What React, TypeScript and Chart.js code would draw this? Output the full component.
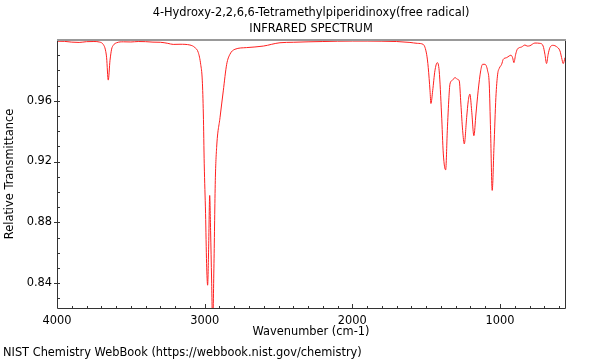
import React, { useEffect, useRef } from "react";
import { Chart, registerables } from "chart.js";

Chart.register(...registerables);

const TITLE_LINES = ["4-Hydroxy-2,2,6,6-Tetramethylpiperidinoxy(free radical)", "INFRARED SPECTRUM"];
const X_TITLE = "Wavenumber (cm-1)";
const Y_TITLE = "Relative Transmittance";
const FOOTER = "NIST Chemistry WebBook (https://webbook.nist.gov/chemistry)";

const X_MAJOR = [4000, 3000, 2000, 1000];
const Y_MAJOR = [0.84, 0.88, 0.92, 0.96];

const WAVENUMBERS = [
  4000, 3950, 3900, 3850, 3800, 3750, 3710, 3687, 3672, 3664, 3653, 3641, 3630, 3619, 3596,
  3550, 3500, 3450, 3400, 3350, 3300, 3250, 3213, 3167, 3100, 3066, 3043, 3027, 3016, 3009,
  3003, 2994, 2987, 2980, 2973, 2966, 2960, 2953, 2946, 2937, 2928, 2919, 2896, 2874, 2851,
  2829, 2795, 2716, 2603, 2490, 2400, 2300, 2200, 2100, 2000, 1900, 1800, 1700, 1610, 1560,
  1520, 1497, 1486, 1474, 1468, 1456, 1441, 1425, 1412, 1396, 1384, 1368, 1357, 1346, 1339,
  1321, 1305, 1290, 1276, 1265, 1253, 1242, 1226, 1215, 1204, 1192, 1177, 1163, 1148, 1131,
  1118, 1102, 1084, 1073, 1064, 1053, 1041, 1028, 1016, 1005, 989, 978, 955, 938, 926,
  915, 906, 894, 883, 854, 831, 816, 798, 764, 730, 708, 696, 685, 674, 662,
  640, 617, 594, 583, 572, 560,
];

const TRANSMITTANCE = [
  0.9992, 0.9991, 0.9986, 0.9984, 0.9989, 0.999, 0.9986, 0.9971, 0.9935, 0.9883, 0.9736, 0.9866, 0.994, 0.9965, 0.9982,
  0.9988, 0.9987, 0.999, 0.9989, 0.9986, 0.9985, 0.9978, 0.9971, 0.9972, 0.9967, 0.995, 0.9917, 0.984, 0.9731, 0.9513,
  0.9185, 0.8857, 0.8529, 0.8386, 0.8638, 0.8977, 0.8748, 0.842, 0.812, 0.8529, 0.9074, 0.9293, 0.949, 0.9665, 0.984,
  0.9906, 0.9939, 0.995, 0.996, 0.9982, 0.9985, 0.9988, 0.999, 0.9992, 0.9993, 0.9993, 0.9992, 0.999, 0.9984, 0.9978,
  0.9971, 0.9906, 0.9818, 0.9666, 0.9582, 0.9666, 0.9797, 0.9851, 0.9797, 0.9513, 0.925, 0.9145, 0.9403, 0.9622, 0.971,
  0.9736, 0.9753, 0.9742, 0.9731, 0.9578, 0.9403, 0.9316, 0.949, 0.96, 0.9644, 0.9534, 0.937, 0.9513, 0.9666, 0.9797,
  0.984, 0.984, 0.9797, 0.971, 0.9403, 0.901, 0.9293, 0.9622, 0.9775, 0.9814, 0.984, 0.9873, 0.9884, 0.9895, 0.99,
  0.9884, 0.9851, 0.9906, 0.9939, 0.9954, 0.9967, 0.996, 0.9962, 0.998, 0.9978, 0.996, 0.9906, 0.9845, 0.9906, 0.995,
  0.9965, 0.9956, 0.9928, 0.9884, 0.9845, 0.9884,
];

const FONT = "'DejaVu Sans', sans-serif";
const FONT_SIZE = 11.4;

const decor = {
  id: "decor",
  afterDraw(chart: any) {
    const { ctx, chartArea, scales } = chart;
    const { left, right, top, bottom } = chartArea;
    const x = scales.x;
    const y = scales.y;
    ctx.save();
    ctx.strokeStyle = "#333";
    ctx.lineWidth = 1;
    ctx.beginPath();
    for (let v = 600; v <= 4000; v += 100) {
      const px = Math.round(x.getPixelForValue(v)) + 0.5;
      if (px < left || px > right) continue;
      const len = v % 1000 === 0 ? 4 : 2;
      ctx.moveTo(px, bottom);
      ctx.lineTo(px, bottom - len);
    }
    for (let i = 83; i <= 99; i++) {
      const v = i / 100;
      const py = Math.round(y.getPixelForValue(v)) + 0.5;
      if (py < top || py > bottom) continue;
      if (i % 4 === 0) {
        ctx.moveTo(left - 3, py);
        ctx.lineTo(left + 3, py);
      } else {
        ctx.moveTo(left, py);
        ctx.lineTo(left + 3, py);
      }
    }
    ctx.stroke();
    // spines
    ctx.strokeStyle = "#333";
    ctx.beginPath();
    ctx.moveTo(left + 0.5, top);
    ctx.lineTo(left + 0.5, bottom + 0.5);
    ctx.lineTo(right + 0.5, bottom + 0.5);
    ctx.lineTo(right + 0.5, top);
    ctx.stroke();
    ctx.strokeStyle = "#999";
    ctx.lineWidth = 2;
    ctx.beginPath();
    ctx.moveTo(left, top);
    ctx.lineTo(right + 1, top);
    ctx.stroke();
    // texts
    ctx.fillStyle = "#000";
    ctx.font = `${FONT_SIZE}px ${FONT}`;
    ctx.textAlign = "center";
    ctx.textBaseline = "middle";
    const cx = (left + right) / 2;
    ctx.fillText(TITLE_LINES[0], cx, 13);
    ctx.fillText(TITLE_LINES[1], cx, 29);
    ctx.fillText(X_TITLE, cx, 332);
    ctx.save();
    ctx.translate(10, (top + bottom) / 2);
    ctx.rotate(-Math.PI / 2);
    ctx.fillText(Y_TITLE, 0, 0);
    ctx.restore();
    ctx.textAlign = "left";
    ctx.fillText(FOOTER, 3, 353);
    ctx.restore();
  },
};

export default function App() {
  const ref = useRef<HTMLCanvasElement | null>(null);
  useEffect(() => {
    if (!ref.current) return;
    const points = WAVENUMBERS.map((w, i) => ({ x: w, y: TRANSMITTANCE[i] }));
    const chart = new Chart(ref.current, {
      type: "line",
      data: {
        datasets: [
          {
            data: points,
            borderColor: "#ff2020",
            borderWidth: 1,
            pointRadius: 0,
            cubicInterpolationMode: "monotone",
          },
        ],
      },
      options: {
        responsive: false,
        animation: false,
        events: [],
        layout: { padding: { left: 0, right: 35, top: 40, bottom: 0 } },
        plugins: { legend: { display: false }, title: { display: false }, tooltip: { enabled: false } },
        scales: {
          x: {
            type: "linear",
            reverse: true,
            min: 560,
            max: 4000,
            grid: { display: false, drawTicks: false },
            border: { display: false },
            afterBuildTicks: (s: any) => {
              s.ticks = X_MAJOR.map((v) => ({ value: v }));
            },
            afterFit: (s: any) => {
              s.height = 52;
            },
            ticks: {
              autoSkip: false,
              maxRotation: 0,
              padding: 6,
              color: "#000",
              font: { family: FONT, size: FONT_SIZE },
              callback: (v: any) => String(v),
            },
          },
          y: {
            type: "linear",
            min: 0.8236,
            max: 1.0,
            grid: { display: false, drawTicks: false },
            border: { display: false },
            afterBuildTicks: (s: any) => {
              s.ticks = Y_MAJOR.map((v) => ({ value: v }));
            },
            afterFit: (s: any) => {
              s.width = 57;
            },
            ticks: {
              autoSkip: false,
              padding: 5,
              color: "#000",
              font: { family: FONT, size: FONT_SIZE },
              callback: (v: any) => Number(v).toFixed(2),
            },
          },
        },
      },
      plugins: [decor],
    });
    return () => chart.destroy();
  }, []);
  return (
    <div style={{ position: "absolute", left: 0, top: 0, width: 600, height: 360, background: "#fff" }}>
      <canvas ref={ref} width={600} height={360} />
    </div>
  );
}
